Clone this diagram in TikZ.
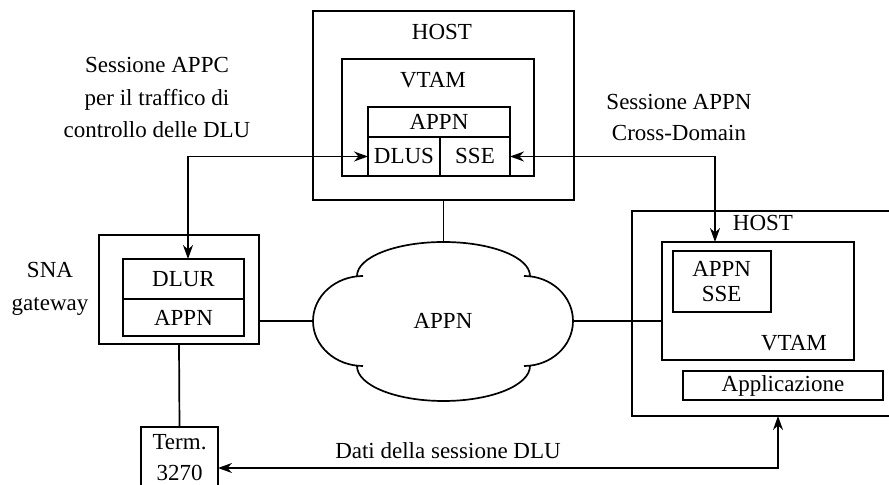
\documentclass[tikz,border=0pt]{standalone}
\usepackage{fontspec}
\setmainfont{Liberation Serif}
\usepackage{tikz}
\usetikzlibrary{calc,arrows.meta}

\tikzset{
  box/.style={draw,line width=0.85pt,inner sep=0pt,outer sep=0pt},
  lbl/.style={inner sep=0pt,align=center},
  conn/.style={line width=0.85pt},
}

\begin{document}
\begin{tikzpicture}[x=0.5pt,y=-0.5pt,>={Stealth[length=7pt,width=5pt]},font=\fontsize{11.5}{16}\selectfont]
			\useasboundingbox (0,0) rectangle (889,485);
			
			\node[box,minimum width=130.5pt,minimum height=94.5pt] (host1) at (443.5,105.5) {};
			\node[lbl] (host1lbl) at (442,32) {HOST};
			\node[box,minimum width=96pt,minimum height=58.5pt] (vtam1) at (438,117.5) {};
			\node[lbl] (vtam1lbl) at (433,80) {VTAM};
			\node[box,minimum width=71pt,minimum height=15pt] (appn1) at (439,122) {APPN};
			\node[box,minimum width=36pt,minimum height=19.5pt] (dlus) at (404,156.5) {DLUS};
			\node[box,minimum width=35pt,minimum height=19.5pt] (sse) at (475,156.5) {SSE};
			
			\node[box,minimum width=80pt,minimum height=54.5pt] (gw) at (179,289.5) {};
			\node[box,minimum width=60.5pt,minimum height=20pt] (dlur) at (183.5,279) {DLUR};
			\node[box,minimum width=60.5pt,minimum height=18.5pt] (appn2) at (183.5,317.5) {APPN};
			\node[lbl,font=\fontsize{11.5}{16.5}\selectfont] (snalbl) at (50,288.5) {SNA\\gateway};
			
			\node[box,minimum width=38.5pt,minimum height=36pt] (term) at (179.5,463) {};
			\node[lbl,font=\fontsize{11.5}{15.5}\selectfont] (termlbl) at (179.5,457.5) {Term.\\3270};
			
			\coordinate (cloudN) at (443.5,242);
			\coordinate (cloudW) at (313,321);
			\coordinate (cloudE) at (573,321);
			\node[lbl] (cloudlbl) at (443,321) {APPN};
			\draw[conn] (357,276) .. controls (357,257.2) and (395.7,242) .. (cloudN) .. controls (491.3,242) and (530,257.2) .. (530,276);
			\draw[conn] (524,276) .. controls (551.1,276) and (573,296.1) .. (cloudE) .. controls (573,345.9) and (551.1,366) .. (524,366);
			\draw[conn] (530,366) .. controls (530,385.3) and (491.3,401) .. (443.5,401) .. controls (395.7,401) and (357,385.3) .. (357,366);
			\draw[conn] (363,366) .. controls (335.4,366) and (313,345.9) .. (cloudW) .. controls (313,296.1) and (335.4,276) .. (363,276);
			
			\node[box,minimum width=134pt,minimum height=102.5pt] (host2) at (766,313.5) {};
			\node[lbl] (host2lbl) at (763,223) {HOST};
			\node[box,minimum width=96pt,minimum height=59pt] (vtam2) at (758,301) {};
			\node[lbl] (vtam2lbl) at (794,343) {VTAM};
			\node[box,minimum width=49pt,minimum height=30.5pt,align=center,font=\fontsize{11.5}{12.5}\selectfont] (sse2) at (721.7,281.3) {APPN\\SSE};
			\node[box,minimum width=100pt,minimum height=14.5pt] (app) at (783,385.5) {Applicazione};
			
			\node[lbl,font=\fontsize{11.5}{16.25}\selectfont] (appclbl) at (157,97.7) {Sessione APPC\\per il traffico di\\controllo delle DLU};
			\node[lbl,font=\fontsize{11.5}{15.5}\selectfont] (appnlbl) at (679,117.5) {Sessione APPN\\Cross-Domain};
			\node[lbl] (dlulbl) at (448,451) {Dati della sessione DLU};
			
			\draw[conn] (host1.south) -- (cloudN);
			\draw[conn] (cloudW) -- (cloudW -| gw.east);
			\draw[conn] (cloudE) -- (cloudE -| vtam2.west);
			\draw[conn] (gw.south) -- (term.north);
			\draw[conn,<->] (dlus.west) -| ([xshift=2.25pt]dlur.north);
			\draw[conn,<->] (sse.east) -| ([xshift=-21.5pt]vtam2.north);
			\coordinate (dlubend) at (778,468);
			\draw[conn,<->] (term.east |- dlubend) -- (dlubend) -- (dlubend |- host2.south);
		\end{tikzpicture}
\end{document}
